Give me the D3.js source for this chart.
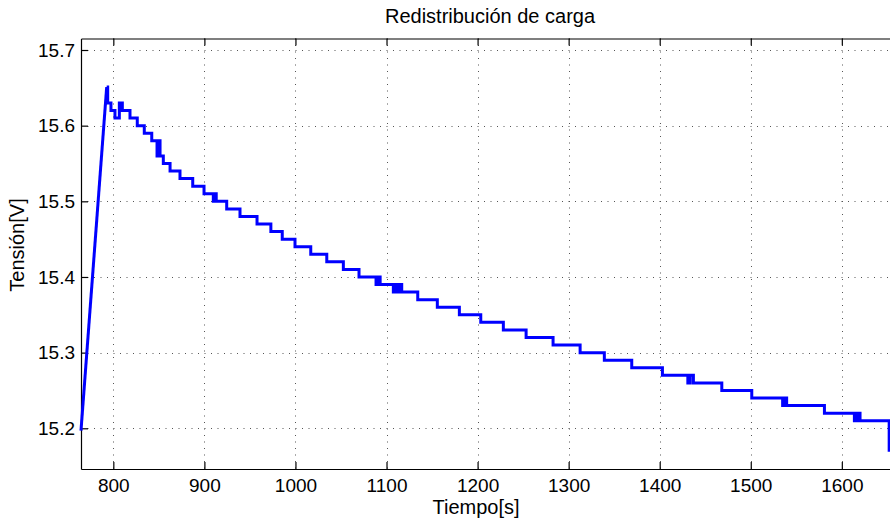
<!DOCTYPE html>
<html>
<head>
<meta charset="utf-8">
<script src="https://cdn.jsdelivr.net/npm/d3@7"></script>
<style>
  body { margin: 0; background: #fff; }
  text { font-family: "Liberation Sans", Arial, sans-serif; fill: #000; }
</style>
</head>
<body>
<script>
// charge ramp (linear) then the stepped discharge
var rampTime = [764.5, 792.7];
var rampVolt = [15.197, 15.651];

// each entry: time where a level starts, and that level
var stepTime = [792.7, 793.8, 797.4, 801.8, 806.6, 809.9, 818.3, 826.3, 834.0, 842.2,
  848.0, 849.1, 851.3, 854.9, 862.3, 873.2, 887.2, 899.6, 909.8, 911.5,
  913.0, 924.5, 939.1, 957.8, 973.0, 985.5, 999.5, 1016.8, 1034.4, 1052.6,
  1069.8, 1088.5, 1090.5, 1093.0, 1107.5, 1109.5, 1112.0, 1114.0, 1116.7, 1134.3,
  1155.8, 1180.0, 1203.5, 1228.3, 1253.3, 1282.9, 1312.6, 1339.2, 1369.3, 1403.0,
  1430.9, 1433.5, 1437.0, 1468.2, 1501.1, 1535.0, 1537.0, 1539.4, 1580.9, 1613.8,
  1617.0, 1620.0, 1623.0, 1652.0];
var stepVolt = [15.651, 15.63, 15.62, 15.61, 15.63, 15.62, 15.61, 15.60, 15.59, 15.58,
  15.56, 15.58, 15.56, 15.55, 15.54, 15.53, 15.52, 15.51, 15.50, 15.51,
  15.50, 15.49, 15.48, 15.47, 15.46, 15.45, 15.44, 15.43, 15.42, 15.41,
  15.40, 15.39, 15.40, 15.39, 15.38, 15.39, 15.38, 15.39, 15.38, 15.37,
  15.36, 15.35, 15.34, 15.33, 15.32, 15.31, 15.30, 15.29, 15.28, 15.27,
  15.26, 15.27, 15.26, 15.25, 15.24, 15.23, 15.24, 15.23, 15.22, 15.21,
  15.22, 15.21, 15.21, 15.169];

var xTicks = [800, 900, 1000, 1100, 1200, 1300, 1400, 1500, 1600];
var yTicks = [15.2, 15.3, 15.4, 15.5, 15.6, 15.7];

var W = 890, H = 522;
var mL = 81, mR = 891, mT = 38.5, mB = 469;
var fs = '19px';

var svg = d3.select('body').append('svg')
  .attr('width', W)
  .attr('height', H);

var x = d3.scaleLinear().domain([764.5, 1654]).range([mL, mR]);
var y = d3.scaleLinear().domain([15.1462, 15.7152]).range([mB, mT]);

// grid
svg.selectAll('.gx').data(xTicks).enter().append('line')
  .attr('x1', function (d) { return Math.round(x(d)) + 0.5; })
  .attr('x2', function (d) { return Math.round(x(d)) + 0.5; })
  .attr('y1', mT).attr('y2', mB)
  .attr('stroke', '#555').attr('stroke-dasharray', '1,5.5');
svg.selectAll('.gy').data(yTicks).enter().append('line')
  .attr('y1', function (d) { return Math.round(y(d)) + 0.5; })
  .attr('y2', function (d) { return Math.round(y(d)) + 0.5; })
  .attr('x1', mL).attr('x2', mR)
  .attr('stroke', '#555').attr('stroke-dasharray', '1,5.5');

// axes (ticks inside, like matlab)
var gx = svg.append('g').attr('transform', 'translate(0,' + mB + ')')
  .call(d3.axisBottom(x).tickValues(xTicks).tickSizeInner(-7).tickSizeOuter(0).tickPadding(10)
    .tickFormat(d3.format('d')));
var gxt = svg.append('g').attr('transform', 'translate(0,' + mT + ')')
  .call(d3.axisTop(x).tickValues(xTicks).tickSizeInner(-7).tickSizeOuter(0).tickFormat(''));
var gy = svg.append('g').attr('transform', 'translate(' + mL + ',0)')
  .call(d3.axisLeft(y).tickValues(yTicks).tickSizeInner(-7).tickSizeOuter(0).tickPadding(6)
    .tickFormat(d3.format('.1f')));
[gx, gxt, gy].forEach(function (g) {
  g.selectAll('path, line').attr('stroke', '#000').attr('stroke-width', 1.2);
  g.selectAll('text').style('font-size', fs).attr('fill', '#000');
});

// data
var line = d3.line().x(function (d) { return x(d[0]); }).y(function (d) { return y(d[1]); });
svg.append('path')
  .datum(rampTime.map(function (t, i) { return [t, rampVolt[i]]; }))
  .attr('d', line)
  .attr('fill', 'none').attr('stroke', '#0000ff').attr('stroke-width', 3);
svg.append('path')
  .datum(stepTime.map(function (t, i) { return [t, stepVolt[i]]; }))
  .attr('d', line.curve(d3.curveStepAfter))
  .attr('fill', 'none').attr('stroke', '#0000ff').attr('stroke-width', 3)
  .attr('stroke-linejoin', 'miter');

// labels
svg.append('text').attr('x', 490).attr('y', 23).attr('text-anchor', 'middle')
  .style('font-size', '20px').text('Redistribución de carga');
svg.append('text').attr('x', 476).attr('y', 514).attr('text-anchor', 'middle')
  .style('font-size', '20px').text('Tiempo[s]');
svg.append('text').attr('transform', 'translate(24,245) rotate(-90)').attr('text-anchor', 'middle')
  .style('font-size', '20px').text('Tensión[V]');
</script>
</body>
</html>
